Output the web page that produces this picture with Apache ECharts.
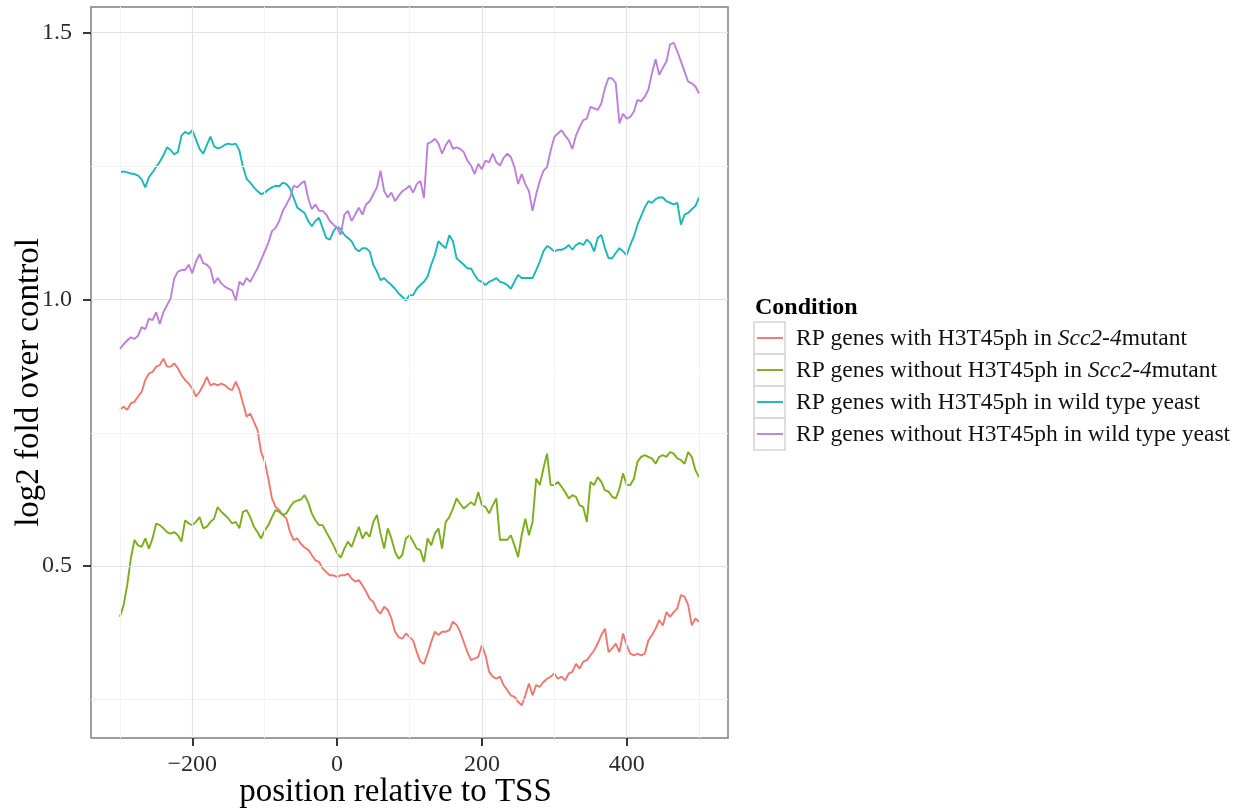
<!DOCTYPE html>
<html>
<head>
<meta charset="utf-8">
<script src="https://cdn.jsdelivr.net/npm/echarts@6/dist/echarts.min.js"></script>
<style>
  html, body { margin: 0; padding: 0; background: #ffffff; }
  #chart { width: 1245px; height: 809px; }
</style>
</head>
<body>
<div id="chart"></div>
<script>
// Sampling positions relative to the TSS (bp), every 5 bp from -300 to 500
const positions = [];
for (let p = -300; p <= 500; p += 5) positions.push(p);

const xTicks = [-200, 0, 200, 400];
const xMinorTicks = [-300, -100, 100, 300, 500];
const yTicks = [0.5, 1.0, 1.5];
const yMinorTicks = [0.25, 0.75, 1.25];

const seriesNames = [
  'RP genes with H3T45ph in Scc2-4mutant',
  'RP genes without H3T45ph in Scc2-4mutant',
  'RP genes with H3T45ph in wild type yeast',
  'RP genes without H3T45ph in wild type yeast'
];

// log2 fold over control, one value per position
const withPhMutant = [
  0.793,0.799,0.793,0.805,0.808,0.818,0.827,0.849,0.861,0.864,
  0.874,0.877,0.889,0.874,0.874,0.880,0.871,0.858,0.849,0.842,
  0.833,0.818,0.827,0.839,0.855,0.839,0.842,0.839,0.842,0.839,
  0.833,0.830,0.846,0.830,0.805,0.780,0.786,0.771,0.755,0.714,
  0.696,0.664,0.627,0.611,0.605,0.596,0.589,0.564,0.549,0.552,
  0.542,0.535,0.531,0.521,0.511,0.508,0.496,0.489,0.483,0.483,
  0.480,0.483,0.483,0.486,0.477,0.471,0.474,0.464,0.452,0.439,
  0.433,0.418,0.411,0.424,0.418,0.402,0.377,0.367,0.364,0.374,
  0.367,0.361,0.339,0.321,0.317,0.336,0.358,0.377,0.371,0.377,
  0.377,0.380,0.396,0.390,0.377,0.358,0.339,0.324,0.327,0.330,
  0.352,0.333,0.302,0.293,0.289,0.293,0.277,0.268,0.258,0.255,
  0.246,0.239,0.258,0.280,0.258,0.277,0.274,0.283,0.289,0.293,
  0.299,0.289,0.293,0.286,0.299,0.302,0.317,0.308,0.321,0.324,
  0.333,0.342,0.355,0.371,0.383,0.339,0.346,0.355,0.339,0.374,
  0.352,0.336,0.333,0.336,0.333,0.336,0.361,0.371,0.383,0.399,
  0.389,0.414,0.405,0.414,0.421,0.446,0.443,0.427,0.389,0.402,
  0.396
];

const withoutPhMutant = [
  0.405,0.427,0.464,0.514,0.549,0.539,0.536,0.552,0.533,0.552,
  0.580,0.577,0.571,0.564,0.561,0.564,0.558,0.546,0.586,0.580,
  0.577,0.583,0.592,0.571,0.574,0.583,0.589,0.611,0.602,0.596,
  0.589,0.580,0.583,0.571,0.602,0.605,0.592,0.574,0.564,0.552,
  0.567,0.577,0.592,0.605,0.602,0.596,0.599,0.611,0.620,0.623,
  0.625,0.633,0.620,0.599,0.586,0.577,0.577,0.564,0.552,0.539,
  0.524,0.516,0.533,0.546,0.536,0.555,0.574,0.552,0.564,0.555,
  0.583,0.596,0.561,0.533,0.571,0.552,0.527,0.514,0.521,0.552,
  0.558,0.546,0.533,0.530,0.508,0.552,0.539,0.561,0.571,0.533,
  0.583,0.592,0.608,0.627,0.617,0.608,0.614,0.620,0.614,0.639,
  0.614,0.611,0.599,0.614,0.627,0.549,0.550,0.549,0.558,0.539,
  0.517,0.558,0.589,0.558,0.583,0.664,0.652,0.683,0.711,0.652,
  0.652,0.658,0.649,0.639,0.627,0.633,0.630,0.614,0.611,0.583,
  0.658,0.652,0.667,0.658,0.642,0.640,0.630,0.627,0.645,0.674,
  0.652,0.652,0.664,0.696,0.705,0.708,0.705,0.702,0.692,0.705,
  0.708,0.705,0.714,0.711,0.702,0.699,0.692,0.714,0.705,0.680,
  0.667
];

const withPhWildType = [
  1.238,1.240,1.238,1.236,1.235,1.232,1.225,1.210,1.229,1.238,
  1.248,1.258,1.270,1.285,1.280,1.272,1.276,1.307,1.314,1.310,
  1.317,1.300,1.282,1.273,1.289,1.305,1.287,1.283,1.285,1.290,
  1.292,1.290,1.292,1.279,1.248,1.226,1.219,1.210,1.203,1.197,
  1.200,1.206,1.210,1.213,1.212,1.219,1.216,1.208,1.190,1.172,
  1.167,1.162,1.147,1.137,1.147,1.153,1.134,1.115,1.112,1.128,
  1.137,1.131,1.121,1.115,1.109,1.096,1.090,1.096,1.096,1.090,
  1.065,1.052,1.036,1.040,1.033,1.027,1.020,1.011,1.005,0.998,
  1.008,1.008,1.020,1.027,1.033,1.043,1.065,1.083,1.109,1.102,
  1.096,1.120,1.109,1.077,1.071,1.065,1.058,1.058,1.046,1.036,
  1.033,1.027,1.033,1.036,1.040,1.033,1.031,1.027,1.020,1.033,
  1.046,1.040,1.040,1.040,1.040,1.055,1.071,1.090,1.100,1.096,
  1.090,1.093,1.093,1.096,1.102,1.093,1.102,1.106,1.102,1.112,
  1.106,1.090,1.115,1.121,1.096,1.077,1.077,1.087,1.096,1.090,
  1.083,1.102,1.118,1.140,1.156,1.172,1.184,1.181,1.188,1.191,
  1.191,1.184,1.181,1.178,1.181,1.140,1.159,1.162,1.169,1.175,
  1.191
];

const withoutPhWildType = [
  0.907,0.916,0.923,0.929,0.926,0.932,0.948,0.944,0.964,0.961,
  0.976,0.954,0.976,0.989,1.002,1.039,1.052,1.055,1.055,1.065,
  1.049,1.071,1.085,1.068,1.065,1.058,1.030,1.040,1.030,1.024,
  1.020,1.017,0.998,1.033,1.027,1.040,1.033,1.046,1.058,1.074,
  1.090,1.106,1.128,1.134,1.147,1.166,1.178,1.191,1.213,1.210,
  1.217,1.222,1.190,1.169,1.178,1.166,1.166,1.159,1.147,1.140,
  1.134,1.121,1.159,1.166,1.147,1.159,1.172,1.159,1.178,1.184,
  1.197,1.210,1.241,1.203,1.191,1.200,1.184,1.194,1.203,1.207,
  1.213,1.200,1.216,1.222,1.190,1.292,1.295,1.301,1.292,1.273,
  1.289,1.299,1.282,1.285,1.282,1.276,1.260,1.251,1.235,1.254,
  1.244,1.260,1.257,1.273,1.257,1.251,1.265,1.273,1.267,1.248,
  1.216,1.235,1.216,1.203,1.166,1.197,1.222,1.241,1.248,1.279,
  1.304,1.311,1.317,1.307,1.298,1.282,1.307,1.323,1.336,1.339,
  1.361,1.358,1.355,1.367,1.396,1.415,1.414,1.405,1.330,1.348,
  1.339,1.342,1.352,1.374,1.371,1.380,1.393,1.424,1.450,1.421,
  1.434,1.446,1.478,1.481,1.465,1.446,1.427,1.408,1.405,1.399,
  1.386
];

const colors = ['#F1766E', '#7BAE1A', '#19B8B8', '#BC80DA'];
const seriesValues = [withPhMutant, withoutPhMutant, withPhWildType, withoutPhWildType];

const SERIF = '"Liberation Serif", "Times New Roman", "DejaVu Serif", serif';

const chart = echarts.init(document.getElementById('chart'), null, { renderer: 'canvas' });

function minus(v) { return String(v).replace('-', '\u2212'); }

// Panel grid lines (major at the tick values, faint minor ones between)
const gridLines = [];
xMinorTicks.forEach(v => gridLines.push({ xAxis: v, lineStyle: { color: '#f3f3f3', width: 1, type: 'solid' } }));
yMinorTicks.forEach(v => gridLines.push({ yAxis: v, lineStyle: { color: '#f3f3f3', width: 1, type: 'solid' } }));
xTicks.forEach(v => gridLines.push({ xAxis: v, lineStyle: { color: '#e3e3e3', width: 1.2, type: 'solid' } }));
yTicks.forEach(v => gridLines.push({ yAxis: v, lineStyle: { color: '#e3e3e3', width: 1.2, type: 'solid' } }));

const series = [{
  type: 'line',
  data: [],
  z: 1,
  silent: true,
  markLine: {
    silent: true,
    symbol: 'none',
    label: { show: false },
    animation: false,
    lineStyle: { type: 'solid' },
    data: gridLines
  }
}];

seriesValues.forEach((vals, i) => {
  series.push({
    name: seriesNames[i],
    type: 'line',
    z: 2 + i,
    showSymbol: false,
    symbol: 'none',
    smooth: false,
    lineStyle: { color: colors[i], width: 1.9 },
    itemStyle: { color: colors[i] },
    data: positions.map((p, k) => [p, vals[k]])
  });
});

// Legend: bordered keys with a coloured stroke and labels
const legendTop = 322;
const rowH = 32;
const graphic = [
  {
    type: 'text',
    x: 755, y: 308,
    style: {
      text: 'Condition',
      font: 'bold 24px ' + SERIF,
      fill: '#000000',
      verticalAlign: 'middle'
    }
  }
];
seriesNames.forEach((name, i) => {
  const top = legendTop + rowH * i;
  graphic.push({
    type: 'rect',
    shape: { x: 754, y: top, width: 31, height: rowH },
    style: { fill: '#ffffff', stroke: '#d4d4d4', lineWidth: 1.5 }
  });
  graphic.push({
    type: 'line',
    shape: { x1: 757, y1: top + rowH / 2, x2: 783, y2: top + rowH / 2 },
    style: { stroke: colors[i], lineWidth: 1.9 }
  });
  const label = name.replace('Scc2-4', '{i|Scc2-4}');
  graphic.push({
    type: 'text',
    x: 796, y: top + rowH / 2 + 1,
    style: {
      text: label,
      font: '23.5px ' + SERIF,
      fill: '#111111',
      verticalAlign: 'middle',
      rich: {
        i: { fontStyle: 'italic', fontFamily: SERIF, fontSize: 23.5, fill: '#111111' }
      }
    }
  });
});

const option = {
  backgroundColor: '#ffffff',
  animation: false,
  grid: {
    left: 91, top: 7, right: 517, bottom: 71,
    show: true,
    borderColor: '#7f7f7f',
    borderWidth: 1.5,
    backgroundColor: 'transparent',
    containLabel: false,
    outerBoundsMode: 'none'
  },
  xAxis: {
    type: 'value',
    min: -340, max: 540,
    name: 'position relative to TSS',
    nameLocation: 'middle',
    nameGap: 38,
    nameMoveOverlap: false,
    nameTextStyle: {
      fontFamily: SERIF, fontSize: 33, color: '#000000',
      verticalAlign: 'top', padding: [0, 28, 0, 0]
    },
    axisLine: { show: false, onZero: false },
    axisTick: { show: true, length: 8, lineStyle: { color: '#222222', width: 1.8 }, customValues: xTicks },
    axisLabel: {
      customValues: xTicks,
      margin: 15,
      fontFamily: SERIF, fontSize: 24, color: '#2b2b2b',
      formatter: v => minus(v)
    },
    splitLine: { show: false }
  },
  yAxis: {
    type: 'value',
    min: 0.178, max: 1.548,
    name: 'log2 fold over control',
    nameLocation: 'middle',
    nameGap: 45,
    nameMoveOverlap: false,
    nameRotate: 90,
    nameTextStyle: {
      fontFamily: SERIF, fontSize: 33, color: '#000000',
      padding: [0, 20, 0, 0]
    },
    axisLine: { show: false, onZero: false },
    axisTick: { show: true, length: 8, lineStyle: { color: '#222222', width: 1.8 }, customValues: yTicks },
    axisLabel: {
      customValues: yTicks,
      margin: 19,
      fontFamily: SERIF, fontSize: 24, color: '#2b2b2b',
      formatter: v => Number(v).toFixed(1)
    },
    splitLine: { show: false }
  },
  graphic: graphic,
  series: series
};

chart.setOption(option);
</script>
</body>
</html>
